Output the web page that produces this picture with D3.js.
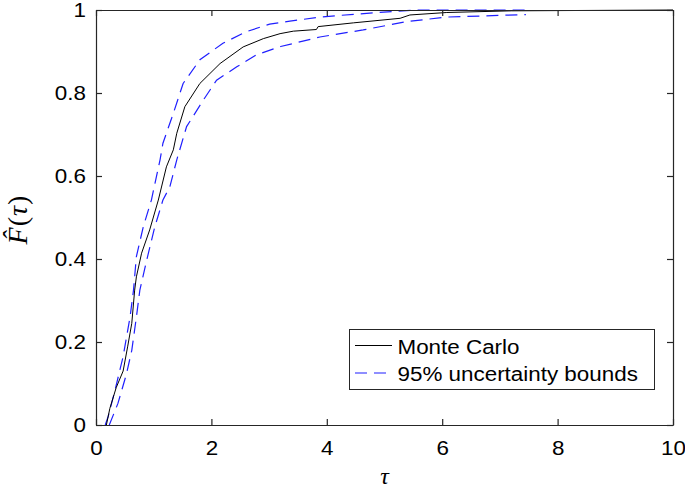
<!DOCTYPE html>
<html><head><meta charset="utf-8">
<script src="https://cdn.jsdelivr.net/npm/d3@7"></script>
<style>body{margin:0;background:#fff}svg{display:block}</style>
</head><body>
<svg id="c" width="685" height="491"></svg>
<script>
const mcTau = [0.18,0.24,0.35,0.47,0.55,0.62,0.67,0.70,0.79,0.93,1.08,1.22,1.34,1.40,1.54,1.80,2.15,2.55,2.90,3.19,3.42,3.82,3.85,4.46,5.27,5.44,6.08,7.2,10];
const mcF   = [0,0.04,0.09,0.13,0.19,0.245,0.325,0.357,0.414,0.47,0.542,0.622,0.663,0.703,0.767,0.823,0.871,0.911,0.931,0.943,0.949,0.953,0.96,0.969,0.98,0.988,0.994,0.998,1];
const upTau = [0.16,0.21,0.33,0.47,0.59,0.65,0.70,0.82,0.96,1.11,1.16,1.34,1.51,1.80,2.20,2.61,3.01,3.36,3.88,4.5,5.21,5.6,7.5];
const upF   = [0,0.02,0.084,0.165,0.26,0.325,0.406,0.478,0.542,0.639,0.679,0.751,0.823,0.88,0.92,0.948,0.966,0.973,0.983,0.99,0.997,1,1];
const loTau = [0.23,0.38,0.53,0.62,0.70,0.76,0.88,1.02,1.16,1.28,1.40,1.57,1.86,2.09,2.44,2.78,3.2,3.88,4.63,5.38,6.08,7.45];
const loF   = [0,0.052,0.124,0.18,0.26,0.325,0.398,0.478,0.542,0.574,0.639,0.719,0.783,0.831,0.863,0.892,0.912,0.935,0.952,0.972,0.983,0.989];
const xTicks = [0,2,4,6,8,10];
const yTicks = [0,0.2,0.4,0.6,0.8,1];
const legendLabels = ["Monte Carlo","95% uncertainty bounds"];

const L=96, R=673, T=10, B=425;
const STRETCH = 1.12;
const svg = d3.select("#c");
const x = d3.scaleLinear().domain([0,10]).range([L,R]);
const y = d3.scaleLinear().domain([0,1]).range([B,T]);
const font = "'Liberation Sans', Arial, sans-serif";
const serif = "'Liberation Serif', 'Times New Roman', serif";

const stretch = sel => sel.each(function(){
  const w = this.getComputedTextLength();
  if (w>0) d3.select(this).attr("textLength", w*STRETCH).attr("lengthAdjust","spacingAndGlyphs");
});

const line = d3.line().x(d=>x(d[0])).y(d=>y(d[1]));
const zip = (a,b)=>a.map((v,i)=>[v,b[i]]);

svg.append("clipPath").attr("id","pc").append("rect")
  .attr("x",L).attr("y",T-1).attr("width",R-L).attr("height",B-T+1);
const g = svg.append("g").attr("clip-path","url(#pc)");
const blue = "#1f1fff";
g.append("path").datum(zip(upTau,upF)).attr("d",line).attr("fill","none")
  .attr("stroke",blue).attr("stroke-width",1.2).attr("stroke-dasharray","12,7");
g.append("path").datum(zip(loTau,loF)).attr("d",line).attr("fill","none")
  .attr("stroke",blue).attr("stroke-width",1.2).attr("stroke-dasharray","12,7");
g.append("path").datum(zip(mcTau,mcF)).attr("d",line).attr("fill","none")
  .attr("stroke","#000").attr("stroke-width",1);

// axes
const ax = (gen, tr) => {
  const a = svg.append("g").attr("transform",tr).call(gen);
  a.select(".domain").attr("stroke","#262626").attr("stroke-width",1.2);
  a.selectAll(".tick line").attr("stroke","#262626").attr("stroke-width",1.2);
  a.selectAll("text").attr("font-family",font).attr("font-size",20).attr("fill","#000").call(stretch);
  return a;
};
ax(d3.axisBottom(x).tickValues(xTicks).tickFormat(d3.format("d")).tickSizeInner(-6).tickSizeOuter(0).tickPadding(16), `translate(0,${B})`);
ax(d3.axisLeft(y).tickValues(yTicks).tickFormat(d=>d===0||d===1?d3.format("d")(d):d3.format(".1f")(d)).tickSizeInner(-6).tickSizeOuter(0).tickPadding(10), `translate(${L},0)`);
ax(d3.axisTop(x).tickValues(xTicks).tickFormat("").tickSizeInner(-6).tickSizeOuter(0), `translate(0,${T})`);
ax(d3.axisRight(y).tickValues(yTicks).tickFormat("").tickSizeInner(-6).tickSizeOuter(0), `translate(${R},0)`);

// axis labels
svg.append("text").attr("x",(L+R)/2).attr("y",484).attr("text-anchor","middle")
  .attr("font-family",serif).attr("font-style","italic")
  .attr("font-size",24).text("τ");
const yl = svg.append("text").attr("transform",`translate(27,${(T+B)/2+2}) rotate(-90)`)
  .attr("text-anchor","middle").attr("font-family",serif)
  .attr("font-size",28).attr("letter-spacing",1);
yl.append("tspan").attr("font-style","italic").text("F\u0302");
yl.append("tspan").text("(");
yl.append("tspan").attr("font-style","italic").text("τ");
yl.append("tspan").text(")");

// legend
const lg = svg.append("g");
lg.append("rect").attr("x",349.5).attr("y",329.5).attr("width",305).attr("height",60)
  .attr("fill","#fff").attr("stroke","#262626").attr("stroke-width",1);
const styles=[{c:"#000",d:null,w:1},{c:blue,d:"12,7",w:1.2}];
legendLabels.forEach((t,i)=>{
  const yy = 345.5 + i*27.5;
  lg.append("line").attr("x1",355).attr("x2",392).attr("y1",yy).attr("y2",yy)
    .attr("stroke",styles[i].c).attr("stroke-width",styles[i].w).attr("stroke-dasharray",styles[i].d);
  lg.append("text").attr("x",397.5).attr("y",yy+8).attr("font-family",font).attr("font-size",20).text(t).call(stretch);
});
</script>
</body></html>
